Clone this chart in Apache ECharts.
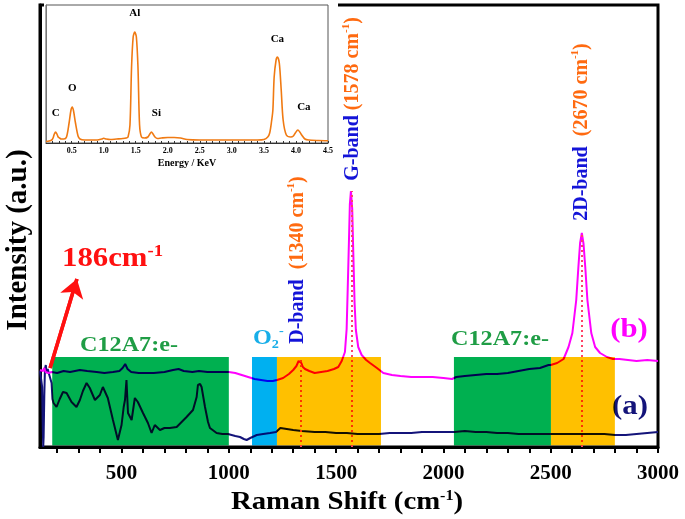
<!DOCTYPE html>
<html><head><meta charset="utf-8">
<script src="https://cdn.jsdelivr.net/npm/echarts@6/dist/echarts.min.js"></script>
<style>html,body{margin:0;padding:0;background:#fff}#c{width:685px;height:519px}</style>
</head><body><div id="c"></div>
<script>
// ---------- main Raman spectra (x = Raman shift cm-1, y = intensity a.u.) ----------
const ramanCurveB = [[120,77],[128,78],[134,76],[140,79],[146,75],[152,77],[160,74],[175,75],[200,74],[230,76],[260,75],[306,77],[340,76],[384,75],[420,74],[460,75],[490,76],[505,79],[517,83],[528,78],[545,75],[580,74],[611,74],[650,74],[700,75],[740,77],[766,78],[790,76],[830,75],[861,76],[900,75],[950,75],[1000,75],[1030,74],[1060,72],[1090,70],[1120,68],[1150,67],[1180,66],[1205,66],[1225,67],[1253,69],[1280,73],[1300,77],[1315,81],[1325,86],[1331,87],[1338,84],[1345,80],[1355,78],[1375,76],[1400,74],[1430,75],[1460,76],[1490,78],[1510,80],[1526,86],[1541,95],[1549,118],[1554,158],[1560,208],[1564,243],[1569,256],[1575,238],[1580,194],[1586,144],[1592,117],[1603,100],[1619,92],[1640,87],[1658,84],[1690,79],[1720,74],[1760,72],[1800,71],[1850,70],[1900,70],[1950,70],[2000,69],[2040,68],[2060,70],[2100,71],[2150,72],[2200,73],[2250,73],[2300,74],[2350,76],[2400,78],[2450,79],[2490,82],[2500,82],[2530,84],[2560,88],[2583,100],[2601,114],[2619,147],[2629,180],[2637,204],[2645,214],[2653,203],[2661,180],[2671,147],[2689,114],[2707,100],[2730,94],[2762,90],[2790,88],[2820,88],[2860,87],[2900,86],[2950,87],[3000,86]];
const ramanCurveA = [[120,76],[126,78],[130,60],[133,20],[135,0],[137,10],[140,50],[143,78],[147,82],[151,74],[156,78],[162,73],[168,72],[174,64],[178,48],[183,44],[197,40],[212,48],[227,55],[244,54],[267,45],[290,40],[306,47],[320,56],[337,64],[352,59],[376,47],[399,52],[413,60],[436,49],[460,27],[483,7],[500,22],[510,40],[516,47],[523,67],[530,34],[547,27],[562,49],[576,45],[600,34],[623,24],[640,14],[655,22],[679,17],[700,19],[725,19],[757,20],[780,25],[803,30],[833,37],[850,50],[856,62],[866,63],[873,60],[889,40],[903,25],[912,19],[943,14],[970,13],[996,13],[1030,11],[1052,10],[1070,8],[1083,7],[1100,9],[1130,12],[1160,13],[1192,14],[1220,15],[1240,19],[1270,18],[1300,17],[1340,16],[1400,15],[1450,15],[1500,14],[1550,14],[1600,13],[1650,13],[1700,13],[1750,14],[1800,14],[1850,14],[1900,15],[1950,15],[2000,15],[2050,15],[2100,16],[2150,15],[2200,15],[2250,14],[2300,14],[2350,13],[2400,13],[2450,13],[2500,13],[2550,13],[2600,13],[2650,13],[2700,13],[2750,13],[2800,12],[2850,12],[2900,13],[2950,14],[3000,15]];

// highlighted regions (start, end, height)
const bandStart = [177, 1108, 1224, 2049, 2501];
const bandEnd   = [1000, 1224, 1709, 2501, 2799];
const bandTop   = [90, 90, 90, 90, 90];

// peak markers
const peakX   = [1336, 1572, 2645];
const peakTop = [87, 256, 214];

// arrow to 186 cm-1
const arrowFrom = [167, 79];
const arrowTo   = [292, 168];

// axis ticks / labels
const ramanLabels = [500, 1000, 1500, 2000, 2500, 3000];
const ramanTicks  = [200,300,400,500,600,700,800,900,1000,1100,1200,1300,1400,1500,1600,1700,1800,1900,2000,2100,2200,2300,2400,2500,2600,2700,2800,2900,3000];

// ---------- EDS inset ----------
const edsSpectrum = [[0.10,1.5],[0.15,2],[0.19,3],[0.21,5],[0.23,9],[0.25,11],[0.27,9],[0.29,6],[0.31,5],[0.34,4],[0.38,4],[0.42,6],[0.46,20],[0.49,33],[0.51,36],[0.53,32],[0.56,20],[0.60,7],[0.63,4],[0.70,3],[0.80,3],[0.90,3],[0.97,4],[1.00,4.7],[1.04,4],[1.10,3.5],[1.20,4],[1.30,4.5],[1.35,5],[1.38,6],[1.41,18],[1.435,76],[1.46,106],[1.485,111],[1.51,106],[1.535,76],[1.56,18],[1.59,6],[1.64,5],[1.69,6],[1.72,9],[1.745,11],[1.77,9],[1.80,6],[1.84,4.5],[1.90,5],[2.00,5.5],[2.10,5.5],[2.20,5],[2.30,3.5],[2.50,3],[2.80,3],[3.10,3],[3.40,3],[3.50,3.5],[3.56,6],[3.59,10],[3.62,22],[3.64,33],[3.66,66],[3.69,83],[3.71,86],[3.74,80],[3.77,53],[3.80,23],[3.85,8],[3.92,6],[3.96,7],[3.99,10],[4.03,13],[4.06,11],[4.09,8],[4.14,4],[4.20,3],[4.35,2.5],[4.50,2.3]];
const edsLabelText = ['C', 'O', 'Al', 'Si', 'Ca', 'Ca'];
const edsLabelAt   = [[0.25,11],[0.51,36],[1.485,111],[1.745,11],[3.71,86],[4.03,13]];
const edsLabels = [0.5,1.0,1.5,2.0,2.5,3.0,3.5,4.0,4.5];
const edsTicks  = [0.2,0.3,0.4,0.5,0.6,0.7,0.8,0.9,1.0,1.1,1.2,1.3,1.4,1.5,1.6,1.7,1.8,1.9,2.0,2.1,2.2,2.3,2.4,2.5,2.6,2.7,2.8,2.9,3.0,3.1,3.2,3.3,3.4,3.5,3.6,3.7,3.8,3.9,4.0,4.1,4.2,4.3,4.4,4.5];

// ---------- styles ----------
const SERIF = '"Liberation Serif", "Times New Roman", serif';
const bandColors = ['#00b050', '#00b0f0', '#ffc000', '#00b050', '#ffc000'];
const edsLabelOffset = [[0,-8],[0,-8],[0,-8],[5,-8],[0,-7],[6,-12]];

const chart = echarts.init(document.getElementById('c'), null, {renderer: 'canvas'});

const option = {
  animation: false,
  backgroundColor: '#ffffff',
  grid: [
    {left: 40, right: 27, top: 5, bottom: 72, show: true, borderColor: '#000', borderWidth: 3, z: 0},
    {left: 46, right: 357, top: 5, bottom: 376, show: true, backgroundColor: '#fff', borderColor: '#555', borderWidth: 1, z: 3}
  ],
  xAxis: [
    {
      type: 'value', gridIndex: 0, min: 120, max: 3000,
      axisLine: {lineStyle: {color: '#000', width: 3}},
      axisTick: {show: true, inside: false, length: 6, lineStyle: {color: '#000', width: 2}, customValues: ramanTicks},
      axisLabel: {customValues: ramanLabels, color: '#000', fontFamily: SERIF, fontWeight: 'bold', fontSize: 21, margin: 16,
        formatter: v => String(v)},
      splitLine: {show: false}
    },
    {
      type: 'value', gridIndex: 1, min: 0.1, max: 4.5, z: 4,
      axisLine: {lineStyle: {color: '#333', width: 1}},
      axisTick: {show: true, inside: true, length: 2, lineStyle: {color: '#333', width: 1}, customValues: edsTicks},
      axisLabel: {customValues: edsLabels, color: '#000', fontFamily: SERIF, fontWeight: 'bold', fontSize: 8, margin: 4,
        formatter: v => v.toFixed(1)},
      splitLine: {show: false},
      name: 'Energy / KeV', nameLocation: 'middle', nameGap: 15,
      nameTextStyle: {color: '#000', fontFamily: SERIF, fontWeight: 'bold', fontSize: 10}
    }
  ],
  yAxis: [
    {type: 'value', gridIndex: 0, min: 0, max: 442,
      axisLine: {show: true, lineStyle: {color: '#000', width: 3}},
      axisTick: {show: false}, axisLabel: {show: false}, splitLine: {show: false}},
    {type: 'value', gridIndex: 1, min: 0, max: 138, z: 4,
      axisLine: {show: true, lineStyle: {color: '#777', width: 1}},
      axisTick: {show: false}, axisLabel: {show: false}, splitLine: {show: false}}
  ],
  series: [
    {
      name: 'a', type: 'line', xAxisIndex: 0, yAxisIndex: 0, data: ramanCurveA, showSymbol: false, z: 2,
      lineStyle: {color: '#14147a', width: 2}, itemStyle: {color: '#14147a'}
    },
    {
      name: 'b', type: 'line', xAxisIndex: 0, yAxisIndex: 0, data: ramanCurveB, showSymbol: false, z: 3,
      lineStyle: {color: '#ff00ff', width: 2}, itemStyle: {color: '#ff00ff'},
      markLine: {
        silent: true, z: 5, symbol: ['none', 'none'],
        label: {show: false},
        lineStyle: {color: '#ff4466', width: 2, type: [2, 3]},
        data: peakX.map((x, i) => [{coord: [x, 0]}, {coord: [x, peakTop[i]]}])
      }
    },
    {
      name: 'bands', type: 'custom', xAxisIndex: 0, yAxisIndex: 0, z: 10,
      blendMode: 'multiply', silent: true,
      data: bandStart.map((s, i) => [s, bandEnd[i], bandTop[i]]),
      encode: {x: [0, 1], y: 2},
      renderItem: (params, api) => {
        const p0 = api.coord([api.value(0), 0]);
        const p1 = api.coord([api.value(1), api.value(2)]);
        return {type: 'rect', shape: {x: p0[0], y: p1[1], width: p1[0] - p0[0], height: p0[1] - p1[1] - 1.5},
          style: {fill: bandColors[params.dataIndex]}};
      }
    },
    {
      name: 'arrow', type: 'line', xAxisIndex: 0, yAxisIndex: 0, data: [arrowFrom, arrowTo], showSymbol: false, z: 20,
      silent: true, lineStyle: {color: '#ff1010', width: 3.5}, itemStyle: {color: '#ff1010'},
      markLine: {
        silent: true, z: 21, animation: false,
        symbol: ['none', 'arrow'], symbolSize: 18,
        label: {show: false},
        lineStyle: {color: '#ff1010', width: 3.5, type: 'solid'},
        data: [[{coord: arrowFrom}, {coord: arrowTo}]]
      }
    },
    {
      name: 'EDS', type: 'line', xAxisIndex: 1, yAxisIndex: 1, data: edsSpectrum, showSymbol: false, z: 6,
      smooth: 0.3, lineStyle: {color: '#f07a12', width: 1.6}, itemStyle: {color: '#f07a12'},
      markPoint: {
        symbol: 'circle', symbolSize: 0, silent: true, z: 7,
        data: edsLabelAt.map((c, i) => ({coord: c, name: edsLabelText[i],
          label: {offset: edsLabelOffset[i]}})),
        label: {show: true, position: 'top', formatter: '{b}', color: '#000', fontFamily: SERIF, fontWeight: 'bold', fontSize: 11}
      }
    }
  ],
  graphic: [
    // hide main frame top border behind inset
    {type: 'rect', z: 1, shape: {x: 44, y: 0, width: 294, height: 9}, style: {fill: '#fff'}},
    {type: 'text', x: 19, y: 240, rotation: Math.PI / 2, z: 30,
      style: {text: 'Intensity (a.u.)', fill: '#000', fontFamily: SERIF, fontWeight: 'bold', fontSize: 29, align: 'center', verticalAlign: 'middle'}},
    {type: 'text', x: 347, y: 503, z: 30, scaleX: 1.15,
      style: {text: '{a|Raman Shift (cm}{s|-1}{a|)}', align: 'center', verticalAlign: 'middle',
        rich: {a: {fill: '#000', fontFamily: SERIF, fontWeight: 'bold', fontSize: 25, lineHeight: 28},
               s: {fill: '#000', fontFamily: SERIF, fontWeight: 'bold', fontSize: 14, verticalAlign: 'top'}}}},
    {type: 'text', x: 62, y: 259, z: 30, scaleX: 1.1,
      style: {text: '{a|186cm}{s|-1}', align: 'left', verticalAlign: 'middle',
        rich: {a: {fill: '#ff1010', fontFamily: SERIF, fontWeight: 'bold', fontSize: 28, lineHeight: 32},
               s: {fill: '#ff1010', fontFamily: SERIF, fontWeight: 'bold', fontSize: 17, verticalAlign: 'top'}}}},
    {type: 'text', x: 129, y: 346, z: 30, scaleX: 1.15,
      style: {text: 'C12A7:e-', fill: '#1f9d45', fontFamily: SERIF, fontWeight: 'bold', fontSize: 21, align: 'center', verticalAlign: 'middle'}},
    {type: 'text', x: 500, y: 340, z: 30, scaleX: 1.15,
      style: {text: 'C12A7:e-', fill: '#1f9d45', fontFamily: SERIF, fontWeight: 'bold', fontSize: 21, align: 'center', verticalAlign: 'middle'}},
    {type: 'text', x: 253, y: 338, z: 30, scaleX: 1.1,
      style: {text: '{a|O}{b|2}{c|-}', align: 'left', verticalAlign: 'middle',
        rich: {a: {fill: '#18aee8', fontFamily: SERIF, fontWeight: 'bold', fontSize: 22, lineHeight: 26},
               b: {fill: '#18aee8', fontFamily: SERIF, fontWeight: 'bold', fontSize: 13, verticalAlign: 'bottom'},
               c: {fill: '#18aee8', fontFamily: SERIF, fontWeight: 'bold', fontSize: 13, verticalAlign: 'top'}}}},
    {type: 'text', x: 298, y: 260, rotation: Math.PI / 2, z: 30,
      style: {text: '{b|D-band}{o|  (1340 cm}{s|-1}{o|)}', align: 'center', verticalAlign: 'middle',
        rich: {b: {fill: '#1414d8', fontFamily: SERIF, fontWeight: 'bold', fontSize: 20, lineHeight: 24},
               o: {fill: '#ff6a10', fontFamily: SERIF, fontWeight: 'bold', fontSize: 20, lineHeight: 24},
               s: {fill: '#ff6a10', fontFamily: SERIF, fontWeight: 'bold', fontSize: 11, verticalAlign: 'top'}}}},
    {type: 'text', x: 353, y: 99, rotation: Math.PI / 2, z: 30,
      style: {text: '{b|G-band}{o| (1578 cm}{s|-1}{o|)}', align: 'center', verticalAlign: 'middle',
        rich: {b: {fill: '#1414d8', fontFamily: SERIF, fontWeight: 'bold', fontSize: 20, lineHeight: 24},
               o: {fill: '#ff6a10', fontFamily: SERIF, fontWeight: 'bold', fontSize: 20, lineHeight: 24},
               s: {fill: '#ff6a10', fontFamily: SERIF, fontWeight: 'bold', fontSize: 11, verticalAlign: 'top'}}}},
    {type: 'text', x: 582, y: 132, rotation: Math.PI / 2, z: 30,
      style: {text: '{b|2D-band}{o|  (2670 cm}{s|-1}{o|)}', align: 'center', verticalAlign: 'middle',
        rich: {b: {fill: '#1414d8', fontFamily: SERIF, fontWeight: 'bold', fontSize: 20, lineHeight: 24},
               o: {fill: '#ff6a10', fontFamily: SERIF, fontWeight: 'bold', fontSize: 20, lineHeight: 24},
               s: {fill: '#ff6a10', fontFamily: SERIF, fontWeight: 'bold', fontSize: 11, verticalAlign: 'top'}}}},
    {type: 'text', x: 629, y: 330, z: 30, scaleX: 1.1,
      style: {text: '(b)', fill: '#ff00ff', fontFamily: SERIF, fontWeight: 'bold', fontSize: 28, align: 'center', verticalAlign: 'middle'}},
    {type: 'text', x: 630, y: 407, z: 1, scaleX: 1.1,
      style: {text: '(a)', fill: '#14147a', fontFamily: SERIF, fontWeight: 'bold', fontSize: 28, align: 'center', verticalAlign: 'middle'}}
  ]
};
chart.setOption(option);
</script>
</body></html>
